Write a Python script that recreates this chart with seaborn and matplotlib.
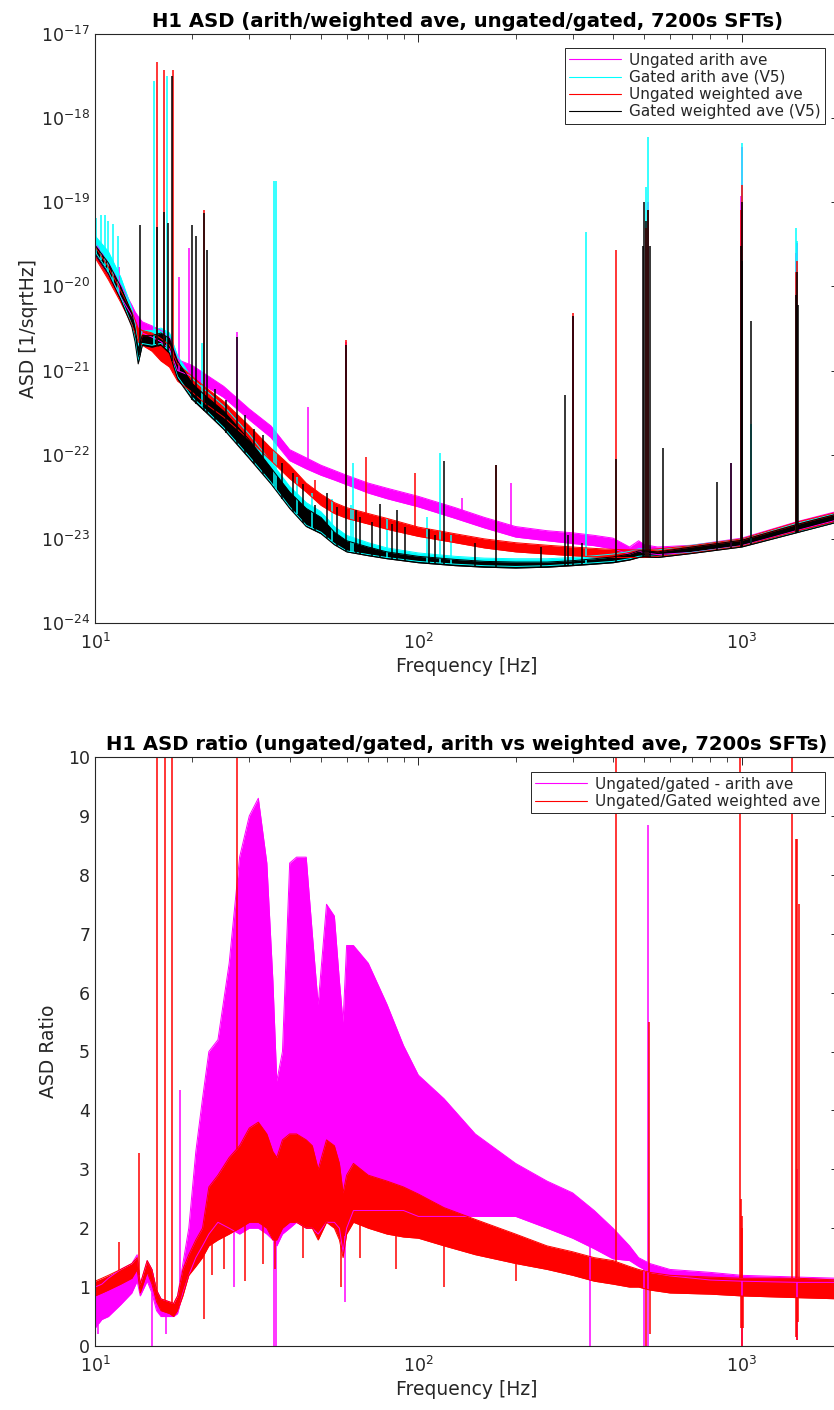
"""
H1 ASD comparison (arith/weighted averages, ungated/gated) and the
ungated/gated ratio, redrawn with seaborn + matplotlib.
"""

import numpy as np
import pandas as pd
import matplotlib
matplotlib.use("Agg")
import matplotlib.pyplot as plt
from matplotlib.ticker import FixedLocator, NullFormatter
import seaborn as sns

# ---------------------------------------------------------------- top panel data
# frequency grid [Hz] where the band edges were read off the picture
asd_freq = [10, 11, 12, 13, 13.3, 13.6, 14, 15, 16, 17, 18, 20, 22, 25, 30, 35,
            40, 45, 50, 55, 60, 70, 80, 100, 130, 160, 200, 250, 300, 350, 400,
            450, 480, 500, 550, 700, 1000, 1500, 2000]

# ungated arithmetic average (magenta)
arith_ungated_lo = [2.4e-20, 1.4e-20, 7.5e-21, 4.5e-21, 3.8e-21, 3.3e-21, 2.8e-21, 2.5e-21,
                    2.2e-21, 1.8e-21, 1.0e-21, 8.5e-22, 6.5e-22, 4.8e-22, 2.6e-22, 1.6e-22,
                    8.5e-23, 6.8e-23, 5.7e-23, 5.0e-23, 4.4e-23, 3.5e-23, 3.0e-23, 2.4e-23,
                    1.75e-23, 1.35e-23, 1.05e-23, 9.5e-24, 8.8e-24, 8.3e-24, 7.6e-24, 6.6e-24,
                    7.2e-24, 6.8e-24, 6.5e-24, 6.9e-24, 8.3e-24, 1.27e-23, 1.7e-23]
arith_ungated_hi = [3.3e-20, 1.9e-20, 1.05e-20, 6.0e-21, 5.0e-21, 4.4e-21, 3.8e-21, 3.4e-21,
                    3.0e-21, 2.5e-21, 1.35e-21, 1.15e-21, 9.0e-22, 6.5e-22, 3.5e-22, 2.2e-22,
                    1.15e-22, 9.2e-23, 7.5e-23, 6.5e-23, 5.7e-23, 4.6e-23, 4.0e-23, 3.2e-23,
                    2.35e-23, 1.8e-23, 1.4e-23, 1.25e-23, 1.18e-23, 1.1e-23, 1.02e-23, 8.0e-24,
                    9.5e-24, 8.5e-24, 8.0e-24, 8.4e-24, 1.02e-23, 1.62e-23, 2.15e-23]

# gated arithmetic average (cyan)
arith_gated_lo = [2.6e-20, 1.5e-20, 7.5e-21, 3.5e-21, 2.4e-21, 1.3e-21, 2.1e-21, 2.0e-21,
                  2.1e-21, 1.7e-21, 8.5e-22, 4.8e-22, 3.4e-22, 2.1e-22, 9.5e-23, 4.7e-23,
                  2.4e-23, 1.45e-23, 1.2e-23, 8.8e-24, 7.2e-24, 6.5e-24, 6.0e-24, 5.4e-24,
                  5.0e-24, 4.8e-24, 4.7e-24, 4.8e-24, 5.0e-24, 5.2e-24, 5.4e-24, 5.8e-24,
                  6.2e-24, 6.3e-24, 6.2e-24, 6.9e-24, 8.2e-24, 1.22e-23, 1.62e-23]
arith_gated_hi = [4.0e-20, 2.6e-20, 1.3e-20, 5.5e-21, 3.6e-21, 2.0e-21, 3.0e-21, 3.0e-21,
                  3.2e-21, 2.8e-21, 1.5e-21, 8.0e-22, 5.8e-22, 3.8e-22, 1.75e-22, 8.2e-23,
                  4.2e-23, 2.7e-23, 2.1e-23, 1.4e-23, 1.1e-23, 9.0e-24, 7.8e-24, 6.8e-24,
                  6.2e-24, 5.9e-24, 5.8e-24, 5.8e-24, 6.0e-24, 6.3e-24, 6.6e-24, 7.1e-24,
                  7.6e-24, 7.6e-24, 7.4e-24, 8.4e-24, 1.0e-23, 1.55e-23, 2.05e-23]

# ungated weighted average (red)
weighted_ungated_lo = [2.2e-20, 1.2e-20, 6.5e-21, 3.5e-21, 2.8e-21, 2.2e-21, 2.0e-21, 1.7e-21,
                       1.3e-21, 1.1e-21, 7.5e-22, 5.5e-22, 4.0e-22, 2.8e-22, 1.5e-22, 8.5e-23,
                       5.2e-23, 3.6e-23, 2.5e-23, 2.0e-23, 1.75e-23, 1.5e-23, 1.3e-23, 1.07e-23,
                       9.0e-24, 7.8e-24, 7.0e-24, 6.6e-24, 6.3e-24, 6.1e-24, 6.0e-24, 6.0e-24,
                       6.0e-24, 6.0e-24, 6.2e-24, 6.8e-24, 8.2e-24, 1.25e-23, 1.65e-23]
weighted_ungated_hi = [3.0e-20, 1.7e-20, 9.0e-21, 5.0e-21, 4.0e-21, 3.2e-21, 3.0e-21, 2.8e-21,
                       2.4e-21, 2.0e-21, 1.2e-21, 8.5e-22, 6.3e-22, 4.3e-22, 2.2e-22, 1.2e-22,
                       7.5e-23, 4.6e-23, 3.4e-23, 2.7e-23, 2.35e-23, 2.0e-23, 1.75e-23, 1.38e-23,
                       1.15e-23, 1.0e-23, 9.0e-24, 8.4e-24, 8.0e-24, 7.7e-24, 7.5e-24, 7.4e-24,
                       7.4e-24, 7.4e-24, 7.6e-24, 8.3e-24, 1.0e-23, 1.6e-23, 2.1e-23]

# gated weighted average (black)
weighted_gated_lo = [2.4e-20, 1.4e-20, 7.0e-21, 3.3e-21, 2.2e-21, 1.2e-21, 2.0e-21, 1.9e-21,
                     2.0e-21, 1.6e-21, 8.0e-22, 4.5e-22, 3.2e-22, 2.0e-22, 9.0e-23, 4.5e-23,
                     2.3e-23, 1.4e-23, 1.15e-23, 8.5e-24, 7.0e-24, 6.3e-24, 5.8e-24, 5.2e-24,
                     4.8e-24, 4.6e-24, 4.5e-24, 4.6e-24, 4.8e-24, 5.0e-24, 5.2e-24, 5.6e-24,
                     6.0e-24, 6.1e-24, 6.0e-24, 6.7e-24, 8.0e-24, 1.2e-23, 1.6e-23]
weighted_gated_hi = [3.1e-20, 1.9e-20, 1.0e-20, 4.8e-21, 3.2e-21, 1.8e-21, 2.6e-21, 2.6e-21,
                     2.8e-21, 2.4e-21, 1.3e-21, 7.0e-22, 5.0e-22, 3.3e-22, 1.5e-22, 7.0e-23,
                     3.6e-23, 2.3e-23, 1.8e-23, 1.2e-23, 9.5e-24, 8.0e-24, 7.0e-24, 6.2e-24,
                     5.7e-24, 5.4e-24, 5.3e-24, 5.3e-24, 5.5e-24, 5.8e-24, 6.1e-24, 6.6e-24,
                     7.2e-24, 7.2e-24, 7.0e-24, 8.0e-24, 9.6e-24, 1.5e-23, 2.0e-23]

# narrow lines: frequency [Hz] and peak ASD
arith_ungated_line_f = [11.9, 18.2, 19.5, 27.4, 45.5, 59.6, 136, 193, 300, 512, 930, 995, 1000,
                        1470, 1480, 1950]
arith_ungated_line_top = [1.7e-20, 1.3e-20, 2.9e-20, 2.9e-21, 3.7e-22, 2.2e-21, 3.1e-23, 4.6e-23,
                          4.5e-21, 1.0e-19, 8.0e-23, 1.2e-19, 4.5e-19, 2.5e-20, 3.3e-20, 1.0e-20]
arith_gated_line_f = [10.1, 10.4, 10.7, 11.0, 11.4, 11.8, 15.2, 16.7, 21.4, 35.8, 36.4, 42, 47,
                      54, 62, 63, 80, 106, 117, 126, 330, 505, 512, 1000, 1070, 1475, 1480]
arith_gated_line_top = [6.5e-20, 7.0e-20, 7.0e-20, 6.0e-20, 5.5e-20, 4.0e-20, 2.8e-18, 3.2e-18,
                        2.1e-21, 1.8e-19, 1.8e-19, 5.5e-23, 3.5e-23, 3.0e-23, 2.5e-23, 7.9e-23,
                        1.7e-23, 1.8e-23, 1.05e-22, 1.1e-23, 4.4e-20, 1.5e-19, 6.0e-19, 5.0e-19,
                        2.3e-22, 5.0e-20, 3.5e-20]
weighted_ungated_line_f = [15.5, 16.4, 17.4, 21.8, 48, 59.6, 69, 97.7, 174, 300, 410, 505, 512,
                           995, 1000, 1475, 1480, 1950]
weighted_ungated_line_top = [4.7e-18, 3.7e-18, 3.7e-18, 8.0e-20, 5.0e-23, 2.3e-21, 9.5e-23, 6.0e-23,
                             7.5e-23, 4.8e-21, 2.7e-20, 5.0e-20, 8.0e-20, 8.0e-20, 1.6e-19, 1.5e-20,
                             2.0e-20, 5.0e-21]
weighted_gated_line_f = [13.8, 15.5, 16.3, 16.8, 17.3, 20, 20.6, 21.8, 22.2, 23.5, 25.5, 27.4,
                         29, 31, 33, 38, 41, 44, 48, 52, 56, 59.6, 64, 66, 72, 76, 83, 86, 91,
                         108, 113, 120, 150, 174, 240, 285, 290, 300, 320, 410, 495, 500, 505,
                         515, 520, 570, 840, 930, 995, 1000, 1005, 1070, 1475, 1480, 1490, 1950]
weighted_gated_line_top = [5.4e-20, 5.1e-20, 7.6e-20, 5.6e-20, 3.2e-18, 5.4e-20, 4.0e-20, 7.4e-20,
                           2.7e-20, 6.0e-22, 4.5e-22, 2.5e-21, 3.0e-22, 2.0e-22, 1.7e-22, 8.0e-23,
                           6.0e-23, 4.5e-23, 2.5e-23, 3.5e-23, 2.4e-23, 2.0e-21, 2.2e-23, 1.8e-23,
                           1.6e-23, 2.6e-23, 1.5e-23, 2.2e-23, 1.4e-23, 1.3e-23, 1.1e-23, 8.5e-23,
                           9.0e-24, 7.5e-23, 8.0e-24, 5.1e-22, 1.1e-23, 4.5e-21, 9.0e-24, 9.0e-23,
                           3.0e-20, 1.0e-19, 6.0e-20, 8.0e-20, 3.0e-20, 1.2e-22, 4.7e-23, 8.0e-23,
                           3.0e-20, 1.0e-19, 2.0e-20, 3.9e-21, 8.0e-21, 1.5e-20, 6.0e-21, 3.5e-21]

# ---------------------------------------------------------------- bottom panel data
ratio_freq = [10, 10.5, 11, 12, 13, 13.5, 13.8, 14.5, 15, 15.5, 16, 17, 17.5, 18, 18.7, 19.5,
              20.5, 21.5, 22.5, 24, 26, 28, 30, 32, 34, 35.5, 36.5, 38, 40, 42, 45, 47, 49,
              52, 55, 57, 58.5, 60, 63, 70, 80, 90, 100, 120, 150, 200, 250, 300, 350, 400,
              450, 480, 520, 600, 800, 1000, 1500, 2000]

ratio_arith_lo = [0.3, 0.45, 0.5, 0.7, 0.9, 1.1, 0.85, 1.1, 0.9, 0.6, 0.5, 0.5, 0.5, 0.55, 0.9, 1.2,
                  1.5, 1.7, 1.9, 2.1, 2.0, 1.9, 2.0, 2.0, 1.9, 1.8, 1.7, 1.9, 2.0, 2.1, 2.0, 2.0, 1.9,
                  2.1, 2.1, 2.0, 1.6, 2.0, 2.3, 2.3, 2.3, 2.3, 2.2, 2.2, 2.2, 2.2, 2.0, 1.83, 1.65,
                  1.48, 1.45, 1.35, 1.25, 1.19, 1.12, 1.1, 1.08, 1.08]
ratio_arith_hi = [1.0, 1.05, 1.15, 1.3, 1.4, 1.55, 1.05, 1.45, 1.3, 0.95, 0.8, 0.75, 0.72, 0.85,
                  1.4, 2.0, 3.3, 4.2, 5.0, 5.2, 6.5, 8.3, 9.0, 9.3, 8.2, 6.2, 4.5, 5.0, 8.2, 8.3,
                  8.3, 7.0, 5.8, 7.5, 7.3, 6.2, 5.5, 6.8, 6.8, 6.5, 5.8, 5.1, 4.6, 4.2, 3.6, 3.1,
                  2.8, 2.6, 2.3, 2.0, 1.7, 1.5, 1.4, 1.3, 1.25, 1.2, 1.17, 1.15]

ratio_weighted_lo = [0.85, 0.9, 0.95, 1.05, 1.15, 1.3, 0.9, 1.25, 1.05, 0.75, 0.6, 0.55, 0.5, 0.6,
                     0.85, 1.2, 1.35, 1.5, 1.7, 1.8, 1.9, 2.0, 2.1, 2.1, 2.0, 1.8, 1.8, 2.0, 2.1,
                     2.1, 2.0, 2.0, 1.8, 2.1, 2.0, 1.8, 1.5, 1.9, 2.1, 2.0, 1.9, 1.85, 1.83, 1.7,
                     1.55, 1.4, 1.3, 1.2, 1.1, 1.05, 1.0, 1.0, 0.95, 0.9, 0.88, 0.85, 0.82, 0.8]
ratio_weighted_hi = [1.1, 1.15, 1.2, 1.3, 1.4, 1.5, 1.05, 1.45, 1.3, 0.95, 0.8, 0.75, 0.72, 0.85,
                     1.3, 1.55, 1.8, 2.0, 2.7, 2.9, 3.2, 3.4, 3.7, 3.8, 3.6, 3.3, 3.2, 3.5, 3.6,
                     3.6, 3.5, 3.4, 3.0, 3.5, 3.4, 3.1, 2.6, 2.9, 3.1, 2.9, 2.8, 2.7, 2.58, 2.35,
                     2.15, 1.9, 1.7, 1.6, 1.5, 1.45, 1.35, 1.3, 1.25, 1.2, 1.17, 1.15, 1.15, 1.12]

# excursions above / below the ratio bands
ratio_arith_up_f = [18.3, 515, 1480]
ratio_arith_up_top = [4.35, 8.85, 3.0]
ratio_arith_dip_f = [10.2, 15.0, 16.6, 27.0, 35.8, 36.4, 59.5, 340, 500, 515, 1000, 1480]
ratio_arith_dip_bottom = [0.2, 0.0, 0.2, 1.0, 0.0, 0.0, 0.75, 0.0, 0.0, 0.0, 0.0, 0.1]
ratio_weighted_up_f = [11.85, 13.7, 15.6, 16.5, 17.3, 27.5, 410, 518, 990, 995, 1000, 1005,
                       1430, 1475, 1480, 1500]
ratio_weighted_up_top = [1.77, 3.27, 12, 12, 12, 12, 12, 5.5, 12, 2.5, 2.2, 2.0, 12, 8.6, 8.6, 7.5]
ratio_weighted_dip_f = [21.7, 23, 25, 29, 33, 36.0, 44, 57.5, 66, 85, 120, 200, 505, 520, 995,
                        1000, 1010, 1470, 1480, 1490]
ratio_weighted_dip_bottom = [0.45, 1.2, 1.3, 1.1, 1.4, 1.3, 1.5, 1.0, 1.5, 1.3, 1.0, 1.1, 0.0, 0.2,
                             0.3, 0.0, 0.3, 0.15, 0.1, 0.4]

ASD_LABELS = ["Ungated arith ave", "Gated arith ave (V5)",
              "Ungated weighted ave", "Gated weighted ave (V5)"]
RATIO_LABELS = ["Ungated/gated - arith ave", "Ungated/Gated weighted ave"]
COLORS = {"Ungated arith ave": "#ff00ff", "Gated arith ave (V5)": "#00ffff",
          "Ungated weighted ave": "#ff0000", "Gated weighted ave (V5)": "#000000",
          "Ungated/gated - arith ave": "#ff00ff", "Ungated/Gated weighted ave": "#ff0000"}
AX_COLOR = "#262626"


def band_frame(freq, lo, hi, label):
    """Long table with the two band edges of one trace."""
    df = pd.DataFrame({"freq": list(freq) * 2, "value": list(lo) + list(hi),
                       "edge": ["lo"] * len(freq) + ["hi"] * len(freq)})
    df["series"] = label
    return df


def edge_at(freq, edge, f, log=True):
    """Value of a band edge at frequency f (used as the foot of a narrow line)."""
    lf, lfq = np.log10(f), np.log10(freq)
    if log:
        return 10 ** np.interp(lf, lfq, np.log10(edge))
    return np.interp(lf, lfq, edge)


def draw_trace(ax, freq, lo, hi, label):
    color = COLORS[label]
    df = band_frame(freq, lo, hi, label)
    ax.fill_between(freq, lo, hi, color=color, lw=0)
    sns.lineplot(data=df, x="freq", y="value", units="edge", estimator=None,
                 color=color, lw=0.7, ax=ax, legend=False, sort=True)
    ax.plot([], [], color=color, lw=0.8, label=label)


def style_axes(ax):
    ax.set_xscale("log")
    ax.set_xlim(10, 2000)
    for s in ax.spines.values():
        s.set_color(AX_COLOR)
        s.set_linewidth(0.8)
    ax.tick_params(which="both", direction="in", top=True, right=True,
                   colors=AX_COLOR, labelsize=12.5)
    ax.tick_params(which="major", length=6, width=0.7)
    ax.tick_params(which="minor", length=3.5, width=0.6)
    ax.tick_params(axis="x", which="major", pad=7)
    ax.xaxis.set_major_locator(FixedLocator([10, 100, 1000]))
    ax.xaxis.set_minor_locator(FixedLocator([20, 30, 40, 50, 60, 70, 80, 90, 200, 300, 400,
                                             500, 600, 700, 800, 900]))
    ax.xaxis.set_minor_formatter(NullFormatter())
    ax.set_xticklabels([r"$10^{1}$", r"$10^{2}$", r"$10^{3}$"])
    ax.set_xlabel("Frequency [Hz]", fontsize=13.5, color=AX_COLOR, labelpad=3)
    ax.grid(False)


def main():
    sns.set_theme(style="white")
    plt.rcParams["font.family"] = ["DejaVu Sans"]
    plt.rcParams["mathtext.fontset"] = "dejavusans"

    fig = plt.figure(figsize=(8.34, 14.1), dpi=100)
    ax1 = fig.add_axes([95 / 834, 1 - 623 / 1410, 744 / 834, 589 / 1410])
    ax2 = fig.add_axes([95 / 834, 1 - 1346 / 1410, 744 / 834, 589 / 1410])

    # ------------------------------------------------------------ ASD panel
    traces = [
        (arith_ungated_lo, arith_ungated_hi, arith_ungated_line_f, arith_ungated_line_top),
        (arith_gated_lo, arith_gated_hi, arith_gated_line_f, arith_gated_line_top),
        (weighted_ungated_lo, weighted_ungated_hi, weighted_ungated_line_f, weighted_ungated_line_top),
        (weighted_gated_lo, weighted_gated_hi, weighted_gated_line_f, weighted_gated_line_top),
    ]
    ax1.set_yscale("log")
    for label, (lo, hi, lf, lt) in zip(ASD_LABELS, traces):
        draw_trace(ax1, asd_freq, lo, hi, label)
        foot = [edge_at(asd_freq, lo, f) for f in lf]
        ax1.vlines(lf, foot, lt, color=COLORS[label], lw=1.1)

    style_axes(ax1)
    ax1.set_ylim(1e-24, 1e-17)
    decades = [10.0 ** k for k in range(-24, -16)]
    ax1.yaxis.set_major_locator(FixedLocator(decades))
    ax1.yaxis.set_minor_locator(FixedLocator([m * d for d in decades[:-1] for m in range(2, 10)]))
    ax1.yaxis.set_minor_formatter(NullFormatter())
    ax1.set_yticklabels([r"$10^{%d}$" % k for k in range(-24, -16)])
    ax1.set_ylabel("ASD [1/sqrtHz]", fontsize=13.5, color=AX_COLOR, labelpad=2)
    ax1.set_title("H1 ASD (arith/weighted ave, ungated/gated, 7200s SFTs)",
                  fontsize=14.1, fontweight="bold", color="black", pad=5)
    leg = ax1.legend(loc="upper right", bbox_to_anchor=(730 / 744, 1 - 14 / 589),
                     fontsize=11, frameon=True, fancybox=False, framealpha=1,
                     edgecolor=AX_COLOR, handlelength=3.4, borderpad=0.3,
                     labelspacing=0.15, handletextpad=0.5, borderaxespad=0)
    leg.get_frame().set_linewidth(0.7)

    # ------------------------------------------------------------ ratio panel
    ratio_traces = [
        (ratio_arith_lo, ratio_arith_hi, ratio_arith_up_f, ratio_arith_up_top,
         ratio_arith_dip_f, ratio_arith_dip_bottom),
        (ratio_weighted_lo, ratio_weighted_hi, ratio_weighted_up_f, ratio_weighted_up_top,
         ratio_weighted_dip_f, ratio_weighted_dip_bottom),
    ]
    for label, (lo, hi, uf, ut, df_, db) in zip(RATIO_LABELS, ratio_traces):
        draw_trace(ax2, ratio_freq, lo, hi, label)
        foot = [edge_at(ratio_freq, hi, f, log=False) for f in uf]
        ax2.vlines(uf, foot, ut, color=COLORS[label], lw=1.1)
        head = [edge_at(ratio_freq, lo, f, log=False) for f in df_]
        ax2.vlines(df_, db, head, color=COLORS[label], lw=1.1)

    style_axes(ax2)
    ax2.set_ylim(0, 10)
    ax2.yaxis.set_major_locator(FixedLocator(range(0, 11)))
    ax2.yaxis.set_minor_locator(FixedLocator([]))
    ax2.set_ylabel("ASD Ratio", fontsize=13.5, color=AX_COLOR, labelpad=7)
    ax2.set_title("H1 ASD ratio (ungated/gated, arith vs weighted ave, 7200s SFTs)",
                  fontsize=14.1, fontweight="bold", color="black", pad=5)
    leg2 = ax2.legend(loc="upper right", bbox_to_anchor=(730 / 744, 1 - 15 / 589),
                      fontsize=11, frameon=True, fancybox=False, framealpha=1,
                      edgecolor=AX_COLOR, handlelength=3.4, borderpad=0.3,
                      labelspacing=0.15, handletextpad=0.5, borderaxespad=0)
    leg2.get_frame().set_linewidth(0.7)

    fig.savefig("out.png", dpi=100)
    plt.close(fig)


if __name__ == "__main__":
    main()
